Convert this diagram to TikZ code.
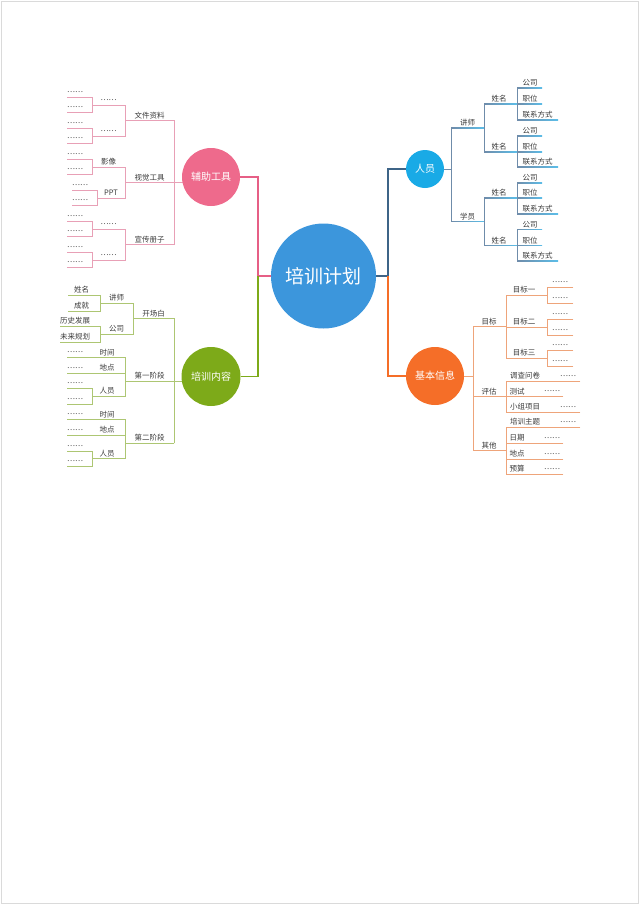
\documentclass[tikz,border=0pt]{standalone}
\usepackage{fontspec}
\newfontfamily\cjk{Noto Sans CJK SC}
\usetikzlibrary{backgrounds}
\definecolor{cmain}{HTML}{3C96DC}
\definecolor{cpink}{HTML}{EE6A8C}
\definecolor{cgreen}{HTML}{7DAA19}
\definecolor{cblue}{HTML}{19AAE6}
\definecolor{corange}{HTML}{F56E28}
\definecolor{lpink}{HTML}{E8A0B6}
\definecolor{mpink}{HTML}{E65F86}
\definecolor{lgreen}{HTML}{ADC673}
\definecolor{lorange}{HTML}{EEA47A}
\definecolor{lbluev}{HTML}{6F8CAA}
\definecolor{lblueu}{HTML}{5CBDE8}
\definecolor{mblue}{HTML}{3E6487}
\definecolor{txt}{HTML}{3A3A3A}
\definecolor{bord}{HTML}{DADADA}
\tikzset{
  lab/.style={font=\cjk\fontsize{7.5}{9}\selectfont, text=txt, inner sep=0pt, anchor=base},
  dotsl/.style={lab, anchor=base west, yshift=2.5pt},
  dotsc/.style={lab, yshift=2.5pt},
  bub/.style={circle, inner sep=0pt, text=white, font=\cjk\fontsize{10}{12}\selectfont},
  pl/.style={draw=lpink, line width=0.8pt, line cap=rect},
  gl/.style={draw=lgreen, line width=0.8pt, line cap=rect},
  ol/.style={draw=lorange, line width=0.8pt, line cap=rect},
  bl/.style={draw=lbluev, line width=0.8pt, line cap=rect},
  trunk/.style={line width=1.6pt},
}
\newcommand\Lb[4]{\node[lab] (#1) at (#2,#3-2.5) {#4};}
\newcommand\Dt[4]{\node[dotsl] (#1) at (#2,#3-2.5) {#4};}
\newcommand\Dc[4]{\node[dotsc] (#1) at (#2,#3-2.5) {#4};}
\newcommand\Bu[4]{\shade[left color=lbluev,right color=lblueu] (#1,#3-0.4) rectangle (#2,#3+0.4);}
\begin{document}
\begin{tikzpicture}[x=1pt,y=-1pt]
\useasboundingbox (0,0) rectangle (640,905);
\draw[draw=bord, line width=1pt] (1.5,1.5) rectangle (638.5,903);

% circles
\node[bub, fill=cmain, minimum size=105pt, font=\cjk\fontsize{19}{22}\selectfont] (C) at (323.5,276) {培训计划};
\node[bub, fill=cpink, minimum size=58pt] (P) at (211,177) {辅助工具};
\node[bub, fill=cgreen, minimum size=59pt] (G) at (211,376.5) {培训内容};
\node[bub, fill=cblue, minimum size=38pt] (B) at (425,169) {人员};
\node[bub, fill=corange, minimum size=58pt] (O) at (435,376) {基本信息};

\begin{scope}[on background layer]
% trunks
\coordinate (lj) at (258,276);
\coordinate (rj) at (388,276);
\draw[trunk, draw=mpink] (C.west) -- (lj) -- (lj |- P) -- (P);
\draw[trunk, draw=cgreen] (lj) -- (lj |- G) -- (G);
\draw[trunk, draw=mblue] (C.east) -- (rj) -- (rj |- B) -- (B);
\draw[trunk, draw=corange] (rj) -- (rj |- O) -- (O);

% ---------- pink ----------
\coordinate (pj) at (174,182.5);
\draw[pl] (pj) -- (pj -| P);
\draw[pl] (174,120.5)--(174,244.5);
\draw[pl] (125,120.5)--(174,120.5);
\draw[pl] (125,182.5)--(174,182.5);
\draw[pl] (125,244.5)--(174,244.5);
\draw[pl] (92,105)--(125,105)--(125,136)--(92,136);
\draw[pl] (92,167)--(125,167)--(125,198)--(97,198);
\draw[pl] (92,229)--(125,229)--(125,260)--(92,260);
\draw[pl] (67,97)--(92,97)--(92,112.5)--(67,112.5);
\draw[pl] (67,128)--(92,128)--(92,143.5)--(67,143.5);
\draw[pl] (67,159)--(92,159)--(92,174.5)--(67,174.5);
\draw[pl] (72,190)--(97,190)--(97,205.5)--(72,205.5);
\draw[pl] (67,221)--(92,221)--(92,236.5)--(67,236.5);
\draw[pl] (67,252)--(92,252)--(92,267.5)--(67,267.5);

% ---------- green ----------
\coordinate (gj) at (174,381);
\draw[gl] (gj) -- (gj -| G);
\draw[gl] (174,318.5)--(174,443);
\draw[gl] (133,318.5)--(174,318.5);
\draw[gl] (125,381)--(174,381);
\draw[gl] (125,443)--(174,443);
\draw[gl] (100,303)--(133,303)--(133,334)--(100,334);
\draw[gl] (68,295)--(100,295)--(100,311)--(68,311);
\draw[gl] (60,326)--(100,326)--(100,342)--(60,342);
\draw[gl] (67,357.5)--(125,357.5)--(125,396.4)--(92,396.4);
\draw[gl] (67,373)--(125,373);
\draw[gl] (67,388.6)--(92,388.6)--(92,404.2)--(67,404.2);
\draw[gl] (67,419.8)--(125,419.8)--(125,458.8)--(92,458.8);
\draw[gl] (67,435.4)--(125,435.4);
\draw[gl] (67,451)--(92,451)--(92,466.6)--(67,466.6);

% ---------- blue ----------
\coordinate (bj) at (451,169);
\draw[bl] (bj) -- (bj -| B);
\draw[bl] (451,128)--(451,221.5);
\Bu{451}{484}{128}{}
\Bu{451}{484}{221.5}{}
\draw[bl] (484,104)--(484,152);
\draw[bl] (484,198)--(484,245.5);
\Bu{484}{517}{104}{}
\Bu{484}{517}{152}{}
\Bu{484}{517}{198}{}
\Bu{484}{517}{245.5}{}
\draw[bl] (517,88)--(517,120);
\draw[bl] (517,136)--(517,167);
\draw[bl] (517,183)--(517,214);
\draw[bl] (517,229.5)--(517,261);
\Bu{517}{542}{88}{}\Bu{517}{542}{104}{}\Bu{517}{558}{120}{}
\Bu{517}{542}{136}{}\Bu{517}{542}{152}{}\Bu{517}{558}{167}{}
\Bu{517}{542}{183}{}\Bu{517}{542}{198}{}\Bu{517}{558}{214}{}
\Bu{517}{542}{229.5}{}\Bu{517}{542}{245.5}{}\Bu{517}{558}{261}{}

% ---------- orange ----------
\coordinate (oj) at (473,376);
\draw[ol] (oj) -- (oj -| O);
\draw[ol] (473,326.5)--(473,450.5);
\draw[ol] (473,326.5)--(506,326.5);
\draw[ol] (473,396.5)--(506,396.5);
\draw[ol] (473,450.5)--(506,450.5);
\draw[ol] (547,295)--(506,295)--(506,358)--(547,358);
\draw[ol] (506,327)--(547,327);
\draw[ol] (573,287)--(547,287)--(547,303)--(573,303);
\draw[ol] (573,319)--(547,319)--(547,335)--(573,335);
\draw[ol] (573,350)--(547,350)--(547,366)--(573,366);
\draw[ol] (580,381)--(506,381)--(506,412)--(580,412);
\draw[ol] (506,396.5)--(563,396.5);
\draw[ol] (580,427)--(506,427)--(506,474)--(563,474);
\draw[ol] (506,443)--(563,443);
\draw[ol] (506,459)--(563,459);
\end{scope}

% ---------- pink labels ----------
\Lb{p1}{149.5}{120.5}{文件资料}
\Lb{p2}{149.5}{182.5}{视觉工具}
\Lb{p3}{149.5}{244.5}{宣传册子}
\Dc{p11}{108.5}{105}{……}
\Dc{p12}{108.5}{136}{……}
\Lb{p21}{108.5}{167}{影像}
\Lb{p22}{111}{198}{PPT}
\Dc{p31}{108.5}{229}{……}
\Dc{p32}{108.5}{260}{……}
\Dt{pa}{67}{97}{……}
\Dt{pb}{67}{112.5}{……}
\Dt{pc}{67}{128}{……}
\Dt{pd}{67}{143.5}{……}
\Dt{pe}{67}{159}{……}
\Dt{pf}{67}{174.5}{……}
\Dt{pg}{72}{190}{……}
\Dt{ph}{72}{205.5}{……}
\Dt{pi}{67}{221}{……}
\Dt{pk}{67}{236.5}{……}
\Dt{pl}{67}{252}{……}
\Dt{pm}{67}{267.5}{……}

% ---------- green labels ----------
\Lb{g1}{153.5}{318.5}{开场白}
\Lb{g2}{149.5}{381}{第一阶段}
\Lb{g3}{149.5}{443}{第二阶段}
\Lb{g11}{116.5}{303}{讲师}
\Lb{g12}{116.5}{334}{公司}
\Lb{g111}{81.5}{295}{姓名}
\Lb{g112}{81.5}{311}{成就}
\Lb{g121}{75}{326}{历史发展}
\Lb{g122}{75}{342}{未来规划}
\Lb{g21}{107}{357.5}{时间}
\Lb{g22}{107}{373}{地点}
\Lb{g23}{107}{396.4}{人员}
\Dt{ga}{67}{357.5}{……}
\Dt{gb}{67}{373}{……}
\Dt{gc}{67}{388.6}{……}
\Dt{gd}{67}{404.2}{……}
\Lb{g31}{107}{419.8}{时间}
\Lb{g32}{107}{435.4}{地点}
\Lb{g33}{107}{458.8}{人员}
\Dt{ge}{67}{419.8}{……}
\Dt{gf}{67}{435.4}{……}
\Dt{gg}{67}{451}{……}
\Dt{gh}{67}{466.6}{……}

% ---------- blue labels ----------
\Lb{b1}{467.5}{128}{讲师}
\Lb{b2}{467.5}{221.5}{学员}
\Lb{b11}{499}{104}{姓名}
\Lb{b12}{499}{152}{姓名}
\Lb{b21}{499}{198}{姓名}
\Lb{b22}{499}{245.5}{姓名}
\Lb{b111}{530}{88}{公司}\Lb{b112}{530}{104}{职位}\Lb{b113}{537.5}{120}{联系方式}
\Lb{b121}{530}{136}{公司}\Lb{b122}{530}{152}{职位}\Lb{b123}{537.5}{167}{联系方式}
\Lb{b211}{530}{183}{公司}\Lb{b212}{530}{198}{职位}\Lb{b213}{537.5}{214}{联系方式}
\Lb{b221}{530}{229.5}{公司}\Lb{b222}{530}{245.5}{职位}\Lb{b223}{537.5}{261}{联系方式}

% ---------- orange labels ----------
\Lb{o1}{489}{326.5}{目标}
\Lb{o2}{489}{396.5}{评估}
\Lb{o3}{489}{450.5}{其他}
\Lb{o11}{524}{295}{目标一}
\Lb{o12}{524}{327}{目标二}
\Lb{o13}{524}{358}{目标三}
\Dc{oa}{560}{287}{……}\Dc{ob}{560}{303}{……}
\Dc{oc}{560}{319}{……}\Dc{od}{560}{335}{……}
\Dc{oe}{560}{350}{……}\Dc{of}{560}{366}{……}
\Lb{o21}{525}{381}{调查问卷}\Dc{o21d}{568}{381}{……}
\Lb{o22}{517}{396.5}{测试}\Dc{o22d}{552}{396.5}{……}
\Lb{o23}{525}{412}{小组项目}\Dc{o23d}{568}{412}{……}
\Lb{o31}{525}{427}{培训主题}\Dc{o31d}{568}{427}{……}
\Lb{o32}{517}{443}{日期}\Dc{o32d}{552}{443}{……}
\Lb{o33}{517}{459}{地点}\Dc{o33d}{552}{459}{……}
\Lb{o34}{517}{474}{预算}\Dc{o34d}{552}{474}{……}
\end{tikzpicture}
\end{document}
